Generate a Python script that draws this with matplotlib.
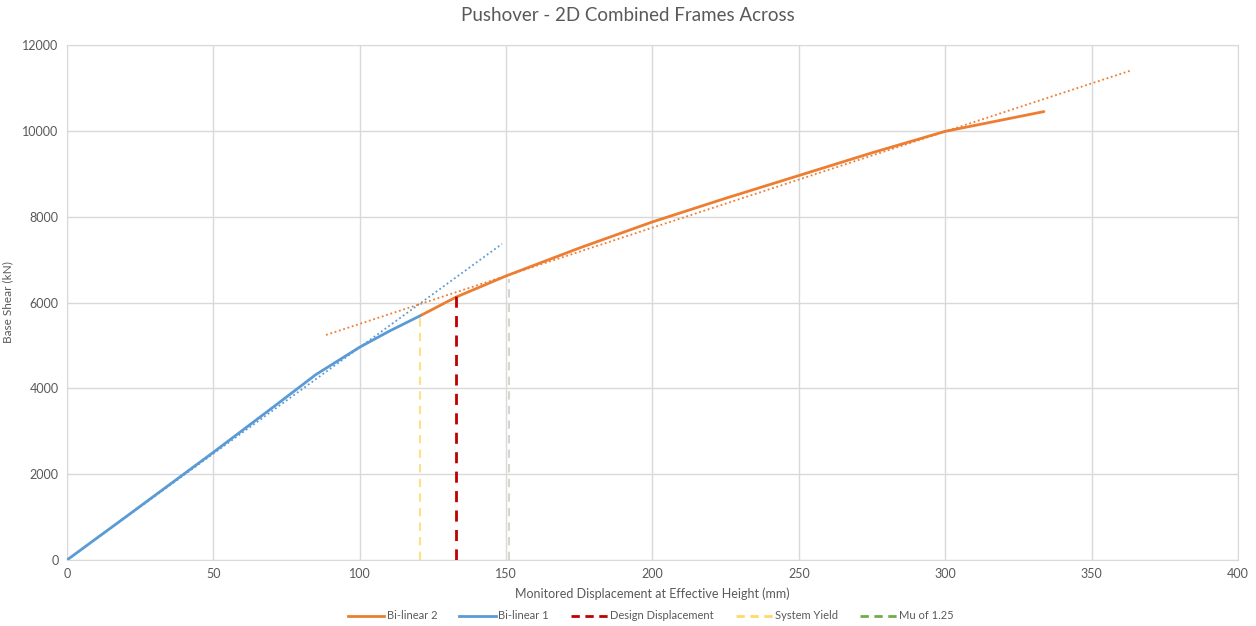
import matplotlib
matplotlib.use('Agg')
import matplotlib.pyplot as plt
from matplotlib.lines import Line2D

plt.rcParams['font.family'] = ['Lato', 'DejaVu Sans']

# pushover curve, split into the two bi-linear branches
disp_bl1 = [0, 20, 50, 70, 85, 100, 110, 120.6]
shear_bl1 = [0, 1000, 2510, 3540, 4320, 4960, 5330, 5690]

disp_bl2 = [120.6, 133, 150, 175, 200, 225, 250, 275, 300, 333.7]
shear_bl2 = [5690, 6130, 6620, 7270, 7880, 8430, 8960, 9490, 9990, 10450]

# linear fits of each branch
fit1_x = [0, 148.6]
fit1_y = [0, 7366]
fit2_x = [88.5, 363]
fit2_y = [5245, 11399]

# markers
yield_disp, yield_shear = 120.6, 5690
design_disp, design_shear = 133, 6250
mu_disp, mu_shear = 151, 6550

ORANGE = '#ED7D31'
BLUE = '#5B9BD5'
RED = '#C00000'
YELLOW = '#FFD966'
GREEN = '#70AD47'
GRID = '#D9D9D9'
TXT = '#595959'

fig = plt.figure(figsize=(12.56, 6.26), dpi=100)
ax = fig.add_axes([0.0533, 0.1054, 0.9324, 0.8226])

ax.plot(fit1_x, fit1_y, color=BLUE, lw=1.3, ls=(0, (1, 1.5)), zorder=3)
ax.plot(fit2_x, fit2_y, color=ORANGE, lw=1.3, ls=(0, (1, 1.5)), zorder=3)

ax.plot(disp_bl2, shear_bl2, color=ORANGE, lw=2, zorder=4, solid_capstyle='round')
ax.plot(disp_bl1, shear_bl1, color=BLUE, lw=2, zorder=4, solid_capstyle='round')

ax.plot([design_disp, design_disp], [0, design_shear], color=RED, lw=2,
        ls=(0, (4, 3)), zorder=5)
ax.plot([yield_disp, yield_disp], [0, yield_shear], color=YELLOW, lw=1.5,
        ls=(0, (4, 3)), alpha=0.8, zorder=2)
ax.plot([mu_disp, mu_disp], [0, mu_shear], color='#D3D8CC', lw=1.5,
        ls=(0, (4, 3)), zorder=2)

ax.set_xlim(0, 400)
ax.set_ylim(0, 12000)
ax.set_xticks(range(0, 401, 50))
ax.set_yticks(range(0, 12001, 2000))
ax.grid(True, color=GRID, lw=1)
ax.set_axisbelow(True)
for s in ax.spines.values():
    s.set_color(GRID)
ax.tick_params(length=0, labelsize=9, colors=TXT, pad=6)

fig.text(0.5, 0.975, 'Pushover - 2D Combined Frames Across', fontsize=13.5,
         color=TXT, ha='center', va='center')
ax.set_xlabel('Monitored Displacement at Effective Height (mm)', fontsize=9,
              color=TXT, labelpad=5)
ax.set_ylabel('Base Shear (kN)', fontsize=8.5, color=TXT)
ax.yaxis.set_label_coords(-0.046, 0.5)

handles = [
    Line2D([], [], color=ORANGE, lw=2),
    Line2D([], [], color=BLUE, lw=2),
    Line2D([], [], color=RED, lw=2, ls=(0, (3, 2))),
    Line2D([], [], color=YELLOW, lw=2, ls=(0, (3, 2))),
    Line2D([], [], color=GREEN, lw=2, ls=(0, (3, 2))),
]
labels = ['Bi-linear 2', 'Bi-linear 1', 'Design Displacement', 'System Yield', 'Mu of 1.25']
leg = fig.legend(handles, labels, loc='center', bbox_to_anchor=(0.518, 0.016),
                 ncol=5, frameon=False, fontsize=8, handlelength=3.3,
                 columnspacing=2.0, handletextpad=0.2, borderpad=0)
for t in leg.get_texts():
    t.set_color(TXT)

fig.savefig('out.png', dpi=100, facecolor='white')
